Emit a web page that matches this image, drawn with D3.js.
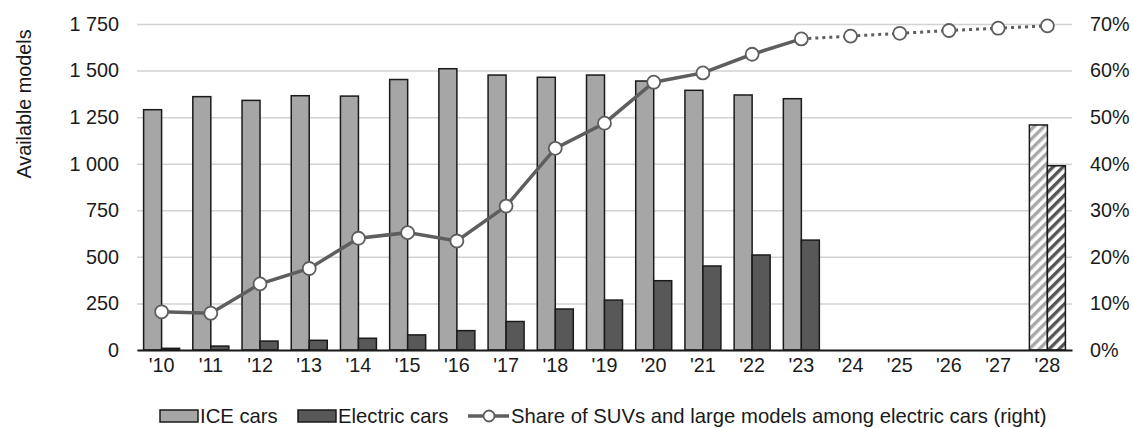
<!DOCTYPE html>
<html>
<head>
<meta charset="utf-8">
<script src="https://cdn.jsdelivr.net/npm/d3@7"></script>
<style>
  body { margin: 0; background: #fff; }
  svg text { font-family: "Liberation Sans", Arial, sans-serif; fill: #1a1a1a; }
</style>
</head>
<body>
<script>
// data
var years = ["'10","'11","'12","'13","'14","'15","'16","'17","'18","'19","'20","'21","'22","'23","'24","'25","'26","'27","'28"];
var iceCars = [1290,1360,1340,1365,1363,1452,1510,1476,1464,1476,1444,1394,1369,1349,null,null,null,null,1208];
var electricCars = [9,21,48,52,63,81,104,153,220,268,372,451,510,590,null,null,null,null,989];
var suvShare = [8.2,7.9,14.2,17.5,24.0,25.2,23.4,30.9,43.3,48.7,57.5,59.5,63.5,66.8,67.4,68.0,68.6,69.1,69.6];
var projected = ["'28"];
var leftTicks = [0,250,500,750,1000,1250,1500,1750];
var rightTicks = [0,10,20,30,40,50,60,70];

var W = 1133, H = 428;
var x0 = 137, x1 = 1072, yTop = 24, yBot = 350;

var svg = d3.select("body").append("svg")
  .attr("width", W).attr("height", H);

var defs = svg.append("defs");
function hatch(id, color) {
  var p = defs.append("pattern")
    .attr("id", id)
    .attr("patternUnits", "userSpaceOnUse")
    .attr("width", 7).attr("height", 7)
    .attr("patternTransform", "rotate(45)");
  p.append("rect").attr("width", 7).attr("height", 7).attr("fill", "#fff");
  p.append("rect").attr("width", 3.4).attr("height", 7).attr("fill", color);
}
hatch("hatchIce", "#a8a8a8");
hatch("hatchEv", "#555");

var x = d3.scaleBand().domain(years).range([x0, x1]).padding(0);
var y = d3.scaleLinear().domain([0, 1750]).range([yBot, yTop]);
var y2 = d3.scaleLinear().domain([0, 70]).range([yBot, yTop]);

var fmt = d3.formatLocale({decimal: ".", thousands: " ", grouping: [3], currency: ["", ""]}).format(",");

// gridlines + left axis
var gl = svg.append("g")
  .attr("transform", "translate(" + x0 + ",0)")
  .call(d3.axisLeft(y).tickValues(leftTicks).tickSize(-(x1 - x0)).tickPadding(18).tickFormat(fmt));
gl.select(".domain").remove();
gl.selectAll(".tick line").attr("stroke", "#d2d2d2").attr("stroke-width", 1.5);
gl.selectAll(".tick text").attr("font-size", "19.8px").attr("fill", "#1a1a1a");

// right axis
var gr = svg.append("g")
  .attr("transform", "translate(" + x1 + ",0)")
  .call(d3.axisRight(y2).tickValues(rightTicks).tickSize(0).tickPadding(18).tickFormat(function (d) { return d + "%"; }));
gr.select(".domain").remove();
gr.selectAll(".tick text").attr("font-size", "19.8px").attr("fill", "#1a1a1a");

var bw = 18;

// ICE bars
svg.append("g").selectAll("rect")
  .data(years.map(function (d, i) { return {year: d, v: iceCars[i]}; }).filter(function (d) { return d.v != null; }))
  .enter().append("rect")
  .attr("x", function (d) { return x(d.year) + x.bandwidth() / 2 - bw; })
  .attr("y", function (d) { return y(d.v); })
  .attr("width", bw)
  .attr("height", function (d) { return yBot - y(d.v); })
  .attr("fill", function (d) { return projected.indexOf(d.year) >= 0 ? "url(#hatchIce)" : "#a6a6a6"; })
  .attr("stroke", "#1a1a1a").attr("stroke-width", 1.5);

// electric bars
svg.append("g").selectAll("rect")
  .data(years.map(function (d, i) { return {year: d, v: electricCars[i]}; }).filter(function (d) { return d.v != null; }))
  .enter().append("rect")
  .attr("x", function (d) { return x(d.year) + x.bandwidth() / 2; })
  .attr("y", function (d) { return y(d.v); })
  .attr("width", bw)
  .attr("height", function (d) { return yBot - y(d.v); })
  .attr("fill", function (d) { return projected.indexOf(d.year) >= 0 ? "url(#hatchEv)" : "#585858"; })
  .attr("stroke", "#1a1a1a").attr("stroke-width", 1.5);

// x axis
var gx = svg.append("g")
  .attr("transform", "translate(0," + yBot + ")")
  .call(d3.axisBottom(x).tickSize(0).tickPadding(8));
gx.select(".domain").attr("stroke", "#1a1a1a").attr("stroke-width", 2);
gx.selectAll(".tick text").attr("font-size", "19.8px").attr("fill", "#1a1a1a");

// share line: solid to '23, dotted after
var pts = years.map(function (d, i) { return {year: d, v: suvShare[i]}; });
var line = d3.line()
  .x(function (d) { return x(d.year) + x.bandwidth() / 2; })
  .y(function (d) { return y2(d.v); });
var split = years.indexOf("'23");
svg.append("path").datum(pts.slice(0, split + 1))
  .attr("d", line).attr("fill", "none")
  .attr("stroke", "#5e5e5e").attr("stroke-width", 3.5);
svg.append("path").datum(pts.slice(split))
  .attr("d", line).attr("fill", "none")
  .attr("stroke", "#5e5e5e").attr("stroke-width", 3)
  .attr("stroke-dasharray", "3,4");
svg.append("g").selectAll("circle")
  .data(pts).enter().append("circle")
  .attr("cx", function (d) { return x(d.year) + x.bandwidth() / 2; })
  .attr("cy", function (d) { return y2(d.v); })
  .attr("r", 6.5)
  .attr("fill", "#fff").attr("stroke", "#5e5e5e").attr("stroke-width", 1.8);

// y title
svg.append("text")
  .attr("transform", "translate(31,104) rotate(-90)")
  .attr("text-anchor", "middle")
  .attr("font-size", "19.8px")
  .text("Available models");

// legend
var lg = svg.append("g");
var ly = 416;
lg.append("rect").attr("x", 160).attr("y", ly - 6).attr("width", 38).attr("height", 12)
  .attr("fill", "#a6a6a6").attr("stroke", "#1a1a1a").attr("stroke-width", 1.5);
lg.append("text").attr("x", 200).attr("y", ly + 7).attr("font-size", "20.3px").text("ICE cars");
lg.append("rect").attr("x", 298).attr("y", ly - 6).attr("width", 38).attr("height", 12)
  .attr("fill", "#585858").attr("stroke", "#1a1a1a").attr("stroke-width", 1.5);
lg.append("text").attr("x", 338).attr("y", ly + 7).attr("font-size", "20.3px").text("Electric cars");
lg.append("line").attr("x1", 468).attr("x2", 509).attr("y1", ly).attr("y2", ly)
  .attr("stroke", "#5e5e5e").attr("stroke-width", 3.5);
lg.append("circle").attr("cx", 489).attr("cy", ly).attr("r", 5.5)
  .attr("fill", "#fff").attr("stroke", "#5e5e5e").attr("stroke-width", 1.8);
lg.append("text").attr("x", 511).attr("y", ly + 7).attr("font-size", "20.3px")
  .text("Share of SUVs and large models among electric cars (right)");
</script>
</body>
</html>
